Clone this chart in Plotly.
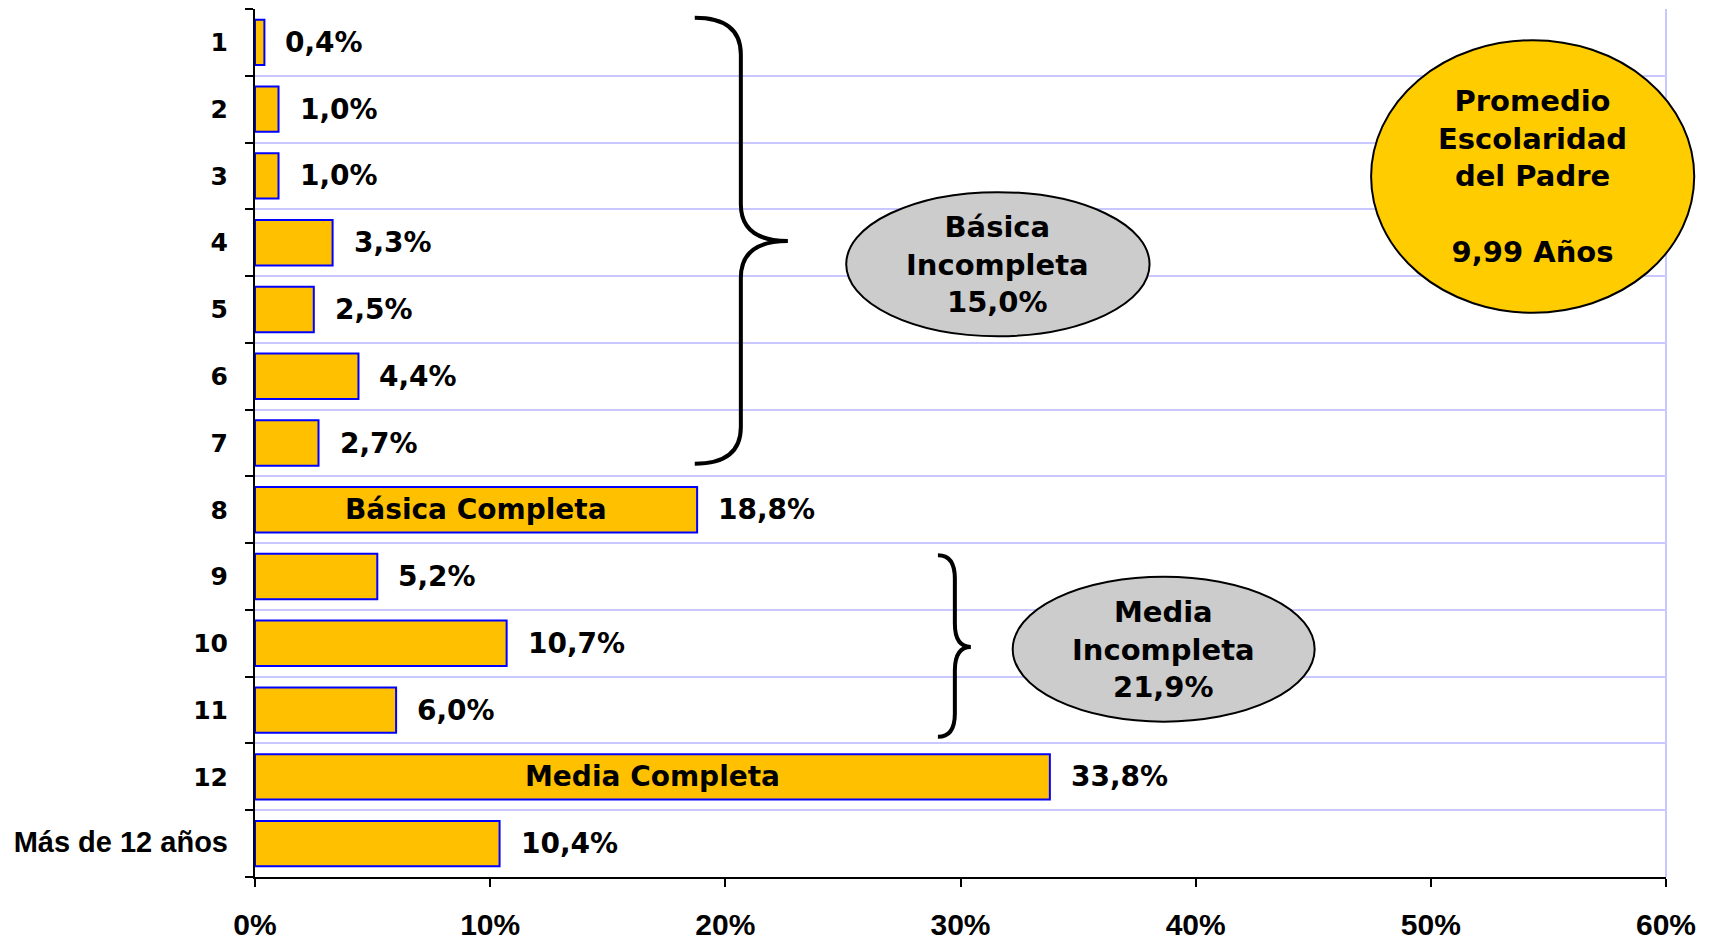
import plotly.graph_objects as go

categories = ["1", "2", "3", "4", "5", "6", "7", "8", "9", "10", "11", "12", "Más de 12 años"]
values = [0.4, 1.0, 1.0, 3.3, 2.5, 4.4, 2.7, 18.8, 5.2, 10.7, 6.0, 33.8, 10.4]
inside_labels = {"8": "Básica Completa", "12": "Media Completa"}
x_ticks = [0, 10, 20, 30, 40, 50, 60]

basica_incompleta = "Básica<br>Incompleta<br>15,0%"
media_incompleta = "Media<br>Incompleta<br>21,9%"
promedio = "Promedio<br>Escolaridad<br>del Padre<br><br>9,99 Años"

MAIN = "Tahoma, DejaVu Sans, Verdana, sans-serif"
NARROW = "Liberation Sans Narrow, Arial Narrow, Liberation Sans, Arial, sans-serif"
BAR = "#FFC000"
GRID = "#C8C8FF"


def pct(v):
    return f"{v:.1f}%".replace(".", ",")


def brace(x_end, x_v, x_tip, y_top, y_mid, y_bot, r):
    return (f"M {x_end},{y_top} Q {x_v},{y_top} {x_v},{y_top + r} "
            f"L {x_v},{y_mid - r} Q {x_v},{y_mid} {x_tip},{y_mid} "
            f"Q {x_v},{y_mid} {x_v},{y_mid + r} "
            f"L {x_v},{y_bot - r} Q {x_v},{y_bot} {x_end},{y_bot}")


ticktext = [f"<b>{c}</b>" if len(c) < 4 else
            f'<span style="font-family:{NARROW}; font-size:29px"><b>{c}</b></span>'
            for c in categories]

fig = go.Figure()
fig.add_trace(go.Bar(
    x=values, y=categories, orientation="h",
    width=0.68,
    marker=dict(color=BAR, line=dict(color="#0000FF", width=2)),
    hoverinfo="skip"))

annotations = []
for i, (c, v) in enumerate(zip(categories, values)):
    annotations.append(dict(
        x=v, y=i, xref="x", yref="y", text=f"<b>{pct(v)}</b>",
        showarrow=False, xanchor="left", yanchor="middle", xshift=19,
        font=dict(family=MAIN, size=28, color="black")))
    if c in inside_labels:
        annotations.append(dict(
            x=v / 2, y=i, xref="x", yref="y", text=f"<b>{inside_labels[c]}</b>",
            showarrow=False, xanchor="center", yanchor="middle",
            font=dict(family=MAIN, size=28, color="black")))

ellipses = [
    (0.419, 0.623, 0.634, 0.789, "#CCCCCC", basica_incompleta),
    (0.537, 0.179, 0.751, 0.346, "#CCCCCC", media_incompleta),
    (0.791, 0.650, 1.020, 0.964, "#FFCC00", promedio),
]
shapes = []
for x0, y0, x1, y1, col, txt in ellipses:
    shapes.append(dict(type="circle", xref="paper", yref="paper",
                       x0=x0, y0=y0, x1=x1, y1=y1, fillcolor=col,
                       line=dict(color="black", width=2), layer="above"))
    annotations.append(dict(x=(x0 + x1) / 2, y=(y0 + y1) / 2, xref="paper", yref="paper",
                            text=f"<b>{txt}</b>", showarrow=False,
                            xanchor="center", yanchor="middle",
                            font=dict(family=MAIN, size=29, color="black")))

shapes.append(dict(type="path", xref="x", yref="y",
                   path=brace(18.7, 20.66, 22.66, -0.37, 2.975, 6.31, 0.55),
                   line=dict(color="black", width=4)))
shapes.append(dict(type="path", xref="x", yref="y",
                   path=brace(29.04, 29.76, 30.44, 7.68, 9.055, 10.40, 0.35),
                   line=dict(color="black", width=4)))
shapes.append(dict(type="line", xref="paper", yref="paper", x0=1, x1=1, y0=0, y1=1,
                   line=dict(color=GRID, width=2), layer="below"))

fig.update_layout(
    width=1717, height=939,
    margin=dict(l=247, r=59, t=1, b=70),
    plot_bgcolor="white", paper_bgcolor="white",
    showlegend=False,
    shapes=shapes, annotations=annotations,
    xaxis=dict(range=[0, 60], tickvals=x_ticks, ticktext=[f"<b>{t}%</b>" for t in x_ticks],
               showgrid=False, zeroline=False, automargin=False,
               showline=True, linecolor="black", linewidth=2,
               ticks="outside", ticklen=8, tickwidth=2, tickcolor="black",
               ticklabelstandoff=12,
               tickfont=dict(family=NARROW, size=30, color="black")),
    yaxis=dict(type="category", categoryorder="array", categoryarray=categories,
               tickvals=categories, ticktext=ticktext, automargin=False,
               autorange="reversed", tickson="boundaries",
               showgrid=True, gridcolor=GRID, gridwidth=2,
               showline=True, linecolor="black", linewidth=2,
               ticks="outside", ticklen=8, tickwidth=2, tickcolor="black",
               ticklabelstandoff=20,
               tickfont=dict(family=MAIN, size=25, color="black")),
)

fig.write_html("out.html")
